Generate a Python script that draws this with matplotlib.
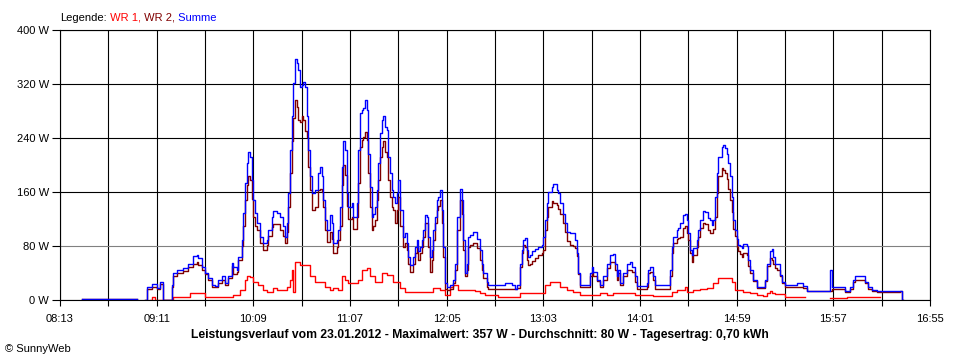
import matplotlib.pyplot as plt
import numpy as np

nan = np.nan

# Summe (blau) und WR 2 (dunkelrot), gleiche Zeitpunkte
zeit = ["08:26", "08:58", "08:59", "09:04", "09:05", "09:08", "09:11", "09:13", "09:15", "09:20",
        "09:21", "09:23", "09:27", "09:30", "09:33", "09:35", "09:36", "09:38", "09:40", "09:42",
        "09:44", "09:46", "09:48", "09:50", "09:52", "09:54", "09:56", "09:57", "09:59", "10:00",
        "10:02", "10:03", "10:04", "10:05", "10:06", "10:07", "10:08", "10:09", "10:10", "10:11",
        "10:13", "10:15", "10:17", "10:18", "10:20", "10:21", "10:23", "10:25", "10:27", "10:28",
        "10:29", "10:30", "10:31", "10:32", "10:33", "10:34", "10:35", "10:36", "10:37", "10:38",
        "10:39", "10:40", "10:41", "10:42", "10:43", "10:44", "10:46", "10:48", "10:49", "10:50",
        "10:51", "10:52", "10:53", "10:55", "10:56", "10:57", "10:59", "11:00", "11:01", "11:02",
        "11:03", "11:04", "11:05", "11:06", "11:08", "11:09", "11:11", "11:12", "11:13", "11:14",
        "11:15", "11:16", "11:17", "11:18", "11:19", "11:20", "11:21", "11:22", "11:23", "11:24",
        "11:25", "11:26", "11:27", "11:28", "11:29", "11:30", "11:31", "11:32", "11:33", "11:34",
        "11:35", "11:36", "11:37", "11:39", "11:40", "11:41", "11:42", "11:43", "11:45", "11:46",
        "11:47", "11:48", "11:49", "11:50", "11:51", "11:52", "11:53", "11:54", "11:55", "11:56",
        "11:57", "11:58", "11:59", "12:00", "12:01", "12:02", "12:03", "12:04", "12:05", "12:07",
        "12:09", "12:10", "12:11", "12:13", "12:14", "12:15", "12:16", "12:17", "12:18", "12:19",
        "12:21", "12:23", "12:25", "12:26", "12:27", "12:29", "12:30", "12:40", "12:44", "12:46",
        "12:47", "12:49", "12:50", "12:51", "12:52", "12:53", "12:54", "12:55", "12:56", "12:58",
        "13:00", "13:02", "13:03", "13:04", "13:05", "13:06", "13:08", "13:09", "13:11", "13:12",
        "13:13", "13:15", "13:16", "13:17", "13:19", "13:21", "13:22", "13:23", "13:24", "13:25",
        "13:31", "13:32", "13:33", "13:35", "13:37", "13:39", "13:41", "13:43", "13:45", "13:46",
        "13:47", "13:48", "13:49", "13:51", "13:53", "13:55", "13:56", "13:58", "13:59", "14:05",
        "14:06", "14:07", "14:09", "14:10", "14:19", "14:20", "14:21", "14:23", "14:24", "14:25",
        "14:27", "14:28", "14:29", "14:30", "14:31", "14:32", "14:33", "14:35", "14:36", "14:37",
        "14:39", "14:40", "14:42", "14:43", "14:44", "14:45", "14:46", "14:47", "14:48", "14:50",
        "14:51", "14:52", "14:53", "14:54", "14:55", "14:56", "14:57", "14:58", "14:59", "15:00",
        "15:01", "15:02", "15:03", "15:05", "15:06", "15:07", "15:09", "15:11", "15:16", "15:17",
        "15:19", "15:20", "15:21", "15:22", "15:23", "15:25", "15:26", "15:28", "15:35", "15:39",
        "15:41", "15:55", "15:56", "16:04", "16:07", "16:09", "16:10", "16:16", "16:18", "16:20",
        "16:23", "16:37", "16:38", "16:39"]

summe = [1, 1, nan, 0, 20, 24, 18, 26, 0, 22,
         40, 44, 47, 54, 65, 67, 62, 49, 40, 32,
         22, 21, 30, 35, 25, 35, 55, 49, 44, 64,
         89, 129, 173, 203, 220, 212, 178, 148, 129, 114,
         94, 85, 89, 104, 123, 132, 129, 123, 109, 94,
         114, 158, 222, 272, 321, 357, 351, 341, 316, 319,
         323, 316, 272, 222, 183, 158, 163, 188, 197, 183,
         148, 119, 104, 126, 114, 84, 89, 104, 138, 197,
         235, 222, 158, 138, 143, 123, 143, 222, 277, 281,
         285, 296, 281, 217, 168, 123, 128, 138, 163, 203,
         247, 267, 272, 257, 252, 212, 188, 163, 153, 143,
         158, 178, 133, 94, 99, 84, 64, 52, 64, 79,
         89, 72, 79, 89, 104, 126, 123, 94, 64, 74,
         104, 123, 148, 153, 163, 133, 79, 25, 20, 22,
         30, 54, 123, 165, 148, 89, 40, 54, 94, 96,
         101, 91, 74, 54, 40, 27, 22, 25, 22, 17,
         22, 54, 74, 89, 92, 74, 64, 67, 72, 75,
         78, 81, 94, 119, 143, 160, 168, 172, 163, 158,
         143, 128, 114, 101, 99, 99, 89, 69, 40, 22,
         40, 49, 42, 30, 22, 35, 54, 67, 68, 54,
         35, 44, 25, 40, 54, 57, 49, 35, 21, 25,
         44, 49, 35, 22, 44, 79, 94, 104, 106, 114,
         126, 128, 119, 99, 74, 67, 77, 89, 104, 119,
         132, 131, 121, 119, 111, 119, 153, 188, 212, 227,
         230, 225, 217, 203, 183, 153, 119, 104, 90, 81,
         80, 77, 83, 80, 59, 44, 30, 20, 30, 54,
         72, 75, 64, 54, 54, 37, 27, 22, 25, 21,
         14, 44, 20, 14, 20, 30, 35, 27, 20, 15,
         14, 14, 0, nan]

wr2 = [1, 1, nan, 0, 16, 20, 16, 24, 0, 20,
       35, 40, 43, 49, 54, 56, 52, 44, 38, 30,
       20, 20, 25, 30, 22, 32, 50, 38, 42, 60,
       80, 109, 148, 170, 183, 178, 150, 123, 110, 104,
       84, 74, 81, 95, 108, 113, 112, 104, 95, 84,
       101, 138, 188, 235, 270, 296, 286, 267, 264, 272,
       267, 250, 242, 197, 163, 133, 138, 163, 165, 160,
       138, 104, 86, 101, 91, 69, 79, 89, 110, 170,
       200, 185, 140, 120, 123, 105, 123, 173, 227, 237,
       242, 249, 237, 188, 138, 104, 109, 119, 148, 178,
       212, 227, 235, 220, 212, 178, 153, 138, 133, 114,
       133, 153, 109, 79, 84, 74, 54, 42, 54, 69,
       79, 59, 69, 79, 94, 114, 114, 79, 42, 59,
       89, 114, 133, 140, 148, 114, 64, 17, 15, 16,
       25, 44, 104, 148, 128, 74, 35, 44, 79, 81,
       84, 77, 59, 44, 32, 20, 17, 17, 17, 16,
       18, 49, 69, 81, 79, 59, 52, 54, 58, 62,
       67, 69, 74, 104, 123, 138, 146, 143, 141, 135,
       128, 114, 101, 88, 81, 80, 77, 65, 38, 20,
       35, 42, 36, 28, 20, 30, 47, 57, 57, 44,
       30, 40, 22, 35, 44, 44, 42, 27, 17, 20,
       40, 42, 30, 17, 35, 69, 84, 91, 92, 94,
       106, 109, 100, 89, 69, 57, 67, 79, 94, 106,
       114, 112, 104, 99, 99, 105, 123, 158, 183, 195,
       193, 188, 180, 165, 148, 130, 105, 95, 78, 72,
       68, 64, 69, 66, 50, 40, 28, 18, 28, 50,
       62, 60, 54, 47, 44, 35, 25, 20, 20, 18,
       14, 14, 17, 12, 17, 27, 30, 25, 17, 13,
       12, 14, 0, nan]

# WR 1 (rot)
zeit_wr1 = ["09:07", "09:08", "09:10", "09:21", "09:31", "09:40", "09:57", "10:01", "10:04", "10:05",
            "10:07", "10:09", "10:12", "10:15", "10:17", "10:21", "10:23", "10:29", "10:31", "10:32",
            "10:33", "10:34", "10:37", "10:40", "10:43", "10:46", "10:52", "10:55", "10:57", "11:00",
            "11:02", "11:04", "11:06", "11:12", "11:14", "11:17", "11:19", "11:22", "11:26", "11:29",
            "11:33", "11:37", "11:40", "11:57", "12:01", "12:04", "12:07", "12:09", "12:12", "12:22",
            "12:25", "12:28", "12:36", "12:49", "12:53", "13:04", "13:07", "13:13", "13:17", "13:21",
            "13:25", "13:37", "13:41", "13:45", "13:58", "14:09", "14:20", "14:23", "14:28", "14:29",
            "14:33", "14:37", "14:41", "14:45", "14:48", "14:51", "14:56", "14:58", "15:03", "15:07",
            "15:11", "15:15", "15:17", "15:19", "15:20", "15:22", "15:28", "15:39", "15:40", "15:55",
            "16:05", "16:24", "16:25"]
wr1 = [0, 4, 0, 4, 10, 4, 7, 15, 30, 35,
       34, 27, 22, 15, 12, 18, 15, 20, 30, 44,
       12, 57, 52, 52, 35, 27, 20, 15, 18, 15,
       35, 30, 25, 30, 44, 47, 35, 27, 40, 37,
       27, 18, 12, 18, 15, 7, 20, 22, 15, 14,
       10, 7, 4, 10, 11, 22, 26, 20, 15, 12,
       7, 10, 7, 10, 7, 6, 12, 15, 20, 12,
       15, 16, 18, 25, 32, 33, 27, 15, 12, 11,
       7, 6, 10, 14, 10, 9, 4, 4, nan, 3,
       4, 4, nan]

def minuten(t):
    h, m = t.split(":")
    return int(h) * 60 + int(m)

x = [minuten(t) for t in zeit]
x1 = [minuten(t) for t in zeit_wr1]

plt.rcParams['font.family'] = ['Liberation Sans', 'DejaVu Sans']

fig = plt.figure(figsize=(9.6, 3.6), dpi=100)
ax = fig.add_axes([60/960, 1 - 300/360, 870/960, 270/360])

ax.plot(x1, wr1, color='#ff0000', lw=1.0, drawstyle='steps-post')
ax.plot(x, wr2, color='#800000', lw=1.0, drawstyle='steps-post')
ax.plot(x, summe, color='#0000ff', lw=1.0, drawstyle='steps-post')

start = minuten("08:13")
ende = minuten("16:55")
ax.set_xlim(start, ende)
ax.set_ylim(0, 400)

ax.set_xticks(np.arange(start, ende + 1, 58))
ax.set_xticks(np.arange(start + 29, ende, 58), minor=True)
ax.set_xticklabels(["%02d:%02d" % (m // 60, m % 60) for m in range(start, ende + 1, 58)])
ax.set_yticks(range(0, 401, 80))
ax.set_yticklabels(["%d W" % v for v in range(0, 401, 80)])

ax.set_axisbelow(True)
ax.grid(True, which='both', axis='x', color='black', lw=0.8)
ax.grid(True, axis='y', color='black', lw=0.8)
ax.get_ygridlines()[1].set_color('#808080')

ax.tick_params(axis='x', which='both', length=4, width=0.8, pad=6, labelsize=8)
ax.tick_params(axis='y', length=6, width=0.8, pad=2, labelsize=8)
for s in ax.spines.values():
    s.set_linewidth(0.8)

# Legende oben links
t = fig.text(60/960, 1 - 21/360, "Legende:", fontsize=8, va='baseline')
for txt, col in [(" WR 1,", '#ff0000'), (" WR 2,", '#800000'), (" Summe", '#0000ff')]:
    t = ax.annotate(txt, xy=(1, 0), xycoords=t, va='bottom', ha='left',
                    fontsize=8, color=col, annotation_clip=False)

fig.text(480/960, 1 - 338/360,
         "Leistungsverlauf vom 23.01.2012 - Maximalwert: 357 W - Durchschnitt: 80 W - Tagesertrag: 0,70 kWh",
         ha='center', va='baseline', fontsize=8.7, fontweight='bold')
fig.text(5/960, 1 - 352/360, "\u00a9 SunnyWeb", fontsize=8, va='baseline')

fig.savefig('out.png', dpi=100)
